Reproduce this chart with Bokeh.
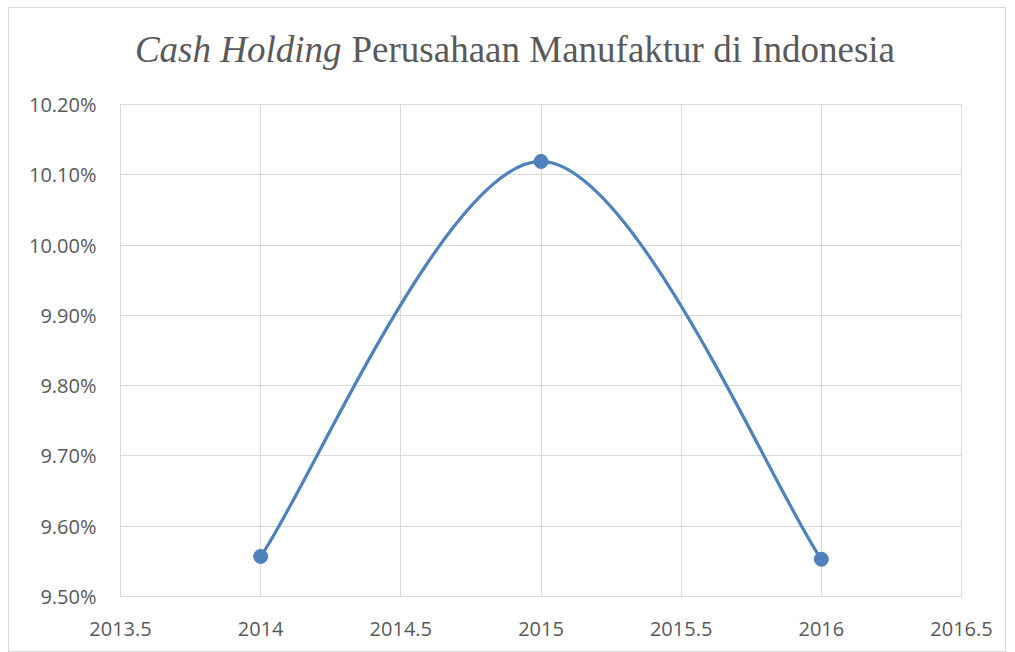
from bokeh.plotting import figure
from bokeh.layouts import column
from bokeh.models import FixedTicker, NumeralTickFormatter, Label, ColumnDataSource
from bokeh.embed import file_html
from bokeh.resources import INLINE

# ---- data ----
years = [2014, 2015, 2016]
cash_holding = [0.09557, 0.10119, 0.09553]   # fraction (shown as %)
x_ticks = [2013.5, 2014, 2014.5, 2015, 2015.5, 2016, 2016.5]
x_tick_labels = ["2013.5", "2014", "2014.5", "2015", "2015.5", "2016", "2016.5"]
y_ticks = [0.095, 0.096, 0.097, 0.098, 0.099, 0.100, 0.101, 0.102]
title_italic = "Cash Holding"
title_rest = "Perusahaan Manufaktur di Indonesia"

BLUE = "#4F81BD"
GRID = "#D9D9D9"
TXT = "#595959"
W = 996

# ---- title strip (separate figure so that mixed italic/normal text is possible) ----
t = figure(width=W, height=80, output_backend="svg", toolbar_location=None,
           x_range=(0, 1), y_range=(0, 1), min_border=0)
t.axis.visible = False
t.grid.visible = False
t.outline_line_color = None
t.border_fill_color = "white"
t.background_fill_color = "white"
t.add_layout(Label(x=221, y=39, x_units="screen", y_units="screen", text=title_italic,
                   text_font="Liberation Serif", text_font_style="italic",
                   text_font_size="37px", text_color=TXT, text_align="right",
                   text_baseline="alphabetic"))
t.add_layout(Label(x=231, y=39, x_units="screen", y_units="screen", text=title_rest,
                   text_font="Liberation Serif", text_font_size="37px", text_color=TXT,
                   text_align="left", text_baseline="alphabetic"))

# ---- main chart ----
p = figure(width=W, height=563, output_backend="svg", toolbar_location=None,
           x_range=(x_ticks[0], x_ticks[-1]), y_range=(y_ticks[0], y_ticks[-1]),
           min_border_left=111, min_border_right=44, min_border_top=16, min_border_bottom=55)
p.title.visible = False
p.background_fill_color = "white"
p.border_fill_color = "white"
p.outline_line_color = GRID
p.outline_line_width = 1

p.xaxis.ticker = FixedTicker(ticks=x_ticks)
p.xaxis.major_label_overrides = {tk: lb for tk, lb in zip(x_ticks, x_tick_labels)}
p.yaxis.ticker = FixedTicker(ticks=y_ticks)
p.yaxis.formatter = NumeralTickFormatter(format="0.00%")
for ax in (p.xaxis, p.yaxis):
    ax.axis_line_color = GRID
    ax.major_tick_line_color = None
    ax.minor_tick_line_color = None
    ax.major_label_text_font = "Open Sans"
    ax.major_label_text_font_size = "20px"
    ax.major_label_text_color = TXT
p.yaxis.major_label_standoff = 18
p.xaxis.major_label_standoff = 19
p.xgrid.ticker = FixedTicker(ticks=x_ticks)
p.ygrid.ticker = FixedTicker(ticks=y_ticks)
p.grid.grid_line_color = GRID
p.grid.grid_line_width = 1

# smoothed line: Bezier segments whose control points come from the data points
n = len(years)
seg = {k: [] for k in ("x0", "y0", "x1", "y1", "cx0", "cy0", "cx1", "cy1")}
for i in range(n - 1):
    pm = max(i - 1, 0)
    pp = min(i + 2, n - 1)
    seg["x0"].append(years[i]); seg["y0"].append(cash_holding[i])
    seg["x1"].append(years[i + 1]); seg["y1"].append(cash_holding[i + 1])
    seg["cx0"].append(years[i] + (years[i + 1] - years[pm]) / 6)
    seg["cy0"].append(cash_holding[i] + (cash_holding[i + 1] - cash_holding[pm]) / 6)
    seg["cx1"].append(years[i + 1] - (years[pp] - years[i]) / 6)
    seg["cy1"].append(cash_holding[i + 1] - (cash_holding[pp] - cash_holding[i]) / 6)
p.bezier(x0="x0", y0="y0", x1="x1", y1="y1", cx0="cx0", cy0="cy0", cx1="cx1", cy1="cy1",
         source=ColumnDataSource(seg), line_color=BLUE, line_width=3.2)
p.scatter(years, cash_holding, size=14, fill_color=BLUE, line_color=BLUE)

layout = column(t, p, spacing=0)
layout.styles = {"margin-left": "8px", "margin-top": "7px", "border": "1px solid #D9D9D9"}

open("out.html", "w").write(file_html(layout, INLINE))
